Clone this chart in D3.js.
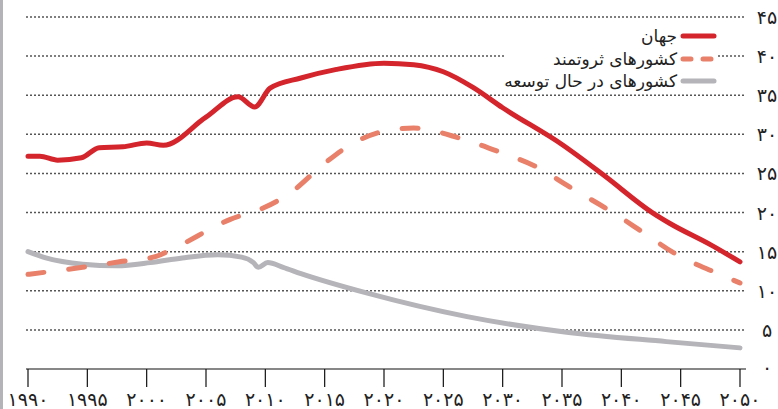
<!DOCTYPE html>
<html>
<head>
<meta charset="utf-8">
<script src="https://cdn.jsdelivr.net/npm/d3@7"></script>
<style>
  body { margin: 0; background: #fff; }
  svg { display: block; font-family: "DejaVu Sans", "Noto Sans", sans-serif; }
</style>
</head>
<body>
<div id="chart"></div>
<script>
// series: [year, value]
const worldData = [
    [1990, 27.2], [1991, 27.2], [1992.5, 26.7], [1994.5, 27.0], [1996, 28.3],
    [1998, 28.4], [2000, 28.9], [2001.4, 28.6], [2005, 32.2], [2007.7, 34.8],
    [2009.1, 33.5], [2010.4, 35.9], [2013, 37.2], [2016, 38.3], [2020, 39.1],
    [2022.5, 38.9], [2025, 38.0], [2027.5, 36.0], [2030, 33.4], [2035, 28.7],
    [2038.5, 24.8], [2042.7, 19.9], [2044.1, 18.6], [2047.5, 15.9], [2050, 13.7]
];
const richData = [
    [1990, 12.1], [1994.6, 13.0], [1997.7, 13.7], [2000.8, 14.4], [2002, 15.2],
    [2007, 19.1], [2010, 20.7], [2012, 22.4], [2015, 26.3], [2017, 28.5],
    [2020, 30.4], [2022.5, 30.8], [2026.4, 29.5], [2029.8, 27.7], [2032.9, 25.8],
    [2035.5, 23.4], [2039.6, 19.7], [2041.8, 17.5], [2044.7, 14.6], [2048, 12.3],
    [2050, 11.0]
];
const developingData = [
    [1990, 15.0], [1991.5, 14.2], [1994.6, 13.4], [1997.5, 13.2], [2000.3, 13.6],
    [2003, 14.2], [2006, 14.6], [2008, 14.3], [2009, 13.6], [2009.4, 13.0],
    [2010.2, 13.6], [2011.5, 13.0], [2013, 12.2], [2018.6, 9.7], [2027, 6.7],
    [2035.4, 4.7], [2043.8, 3.5], [2050, 2.7]
];
const seriesNames = ["جهان", "کشورهای ثروتمند", "کشورهای در حال توسعه"];
const yTicks = [0, 5, 10, 15, 20, 25, 30, 35, 40, 45];
const xTicks = [1990, 1995, 2000, 2005, 2010, 2015, 2020, 2025, 2030, 2035, 2040, 2045, 2050];

const faDigits = n => String(n).replace(/\d/g, d => "۰۱۲۳۴۵۶۷۸۹"[d]);

const width = 778, height = 409;
const svg = d3.select("#chart").append("svg")
    .attr("width", width)
    .attr("height", height);

const x = d3.scaleLinear().domain([1990, 2050]).range([28, 740]);
const y = d3.scaleLinear().domain([0, 45]).range([369, 17]);

// grey strip on the left edge
svg.append("rect")
    .attr("x", 0).attr("y", 0)
    .attr("width", 3).attr("height", height)
    .attr("fill", "#b4b4b8");

// dotted grid
svg.append("g")
    .selectAll("line")
    .data(yTicks.filter(d => d > 0))
    .enter()
    .append("line")
    .attr("x1", 26).attr("x2", 746)
    .attr("y1", d => y(d)).attr("y2", d => y(d))
    .attr("stroke", "#555")
    .attr("stroke-width", 1.5)
    .attr("stroke-dasharray", "2,2");

// y labels on the right
svg.append("g")
    .selectAll("text")
    .data(yTicks)
    .enter()
    .append("text")
    .attr("x", 767)
    .attr("y", d => y(d) + (d === 0 ? 5 : 7))
    .attr("text-anchor", "middle")
    .attr("font-size", "19px")
    .attr("fill", "#222")
    .text(d => faDigits(d));

// x axis
const xAxis = svg.append("g");
xAxis.append("line")
    .attr("x1", 26).attr("x2", 746)
    .attr("y1", 369).attr("y2", 369)
    .attr("stroke", "#111").attr("stroke-width", 1.2);
xAxis.selectAll(".tick")
    .data(xTicks)
    .enter()
    .append("line")
    .attr("x1", d => x(d)).attr("x2", d => x(d))
    .attr("y1", 369).attr("y2", 387)
    .attr("stroke", "#111").attr("stroke-width", 1.2);
xAxis.selectAll("text")
    .data(xTicks)
    .enter()
    .append("text")
    .attr("x", d => x(d))
    .attr("y", 406)
    .attr("text-anchor", "middle")
    .attr("font-size", "19px")
    .attr("fill", "#222")
    .text(d => faDigits(d));

// lines
const line = d3.line()
    .x(d => x(d[0]))
    .y(d => y(d[1]))
    .curve(d3.curveMonotoneX);

const styles = [
    { data: worldData, color: "#d4242c", dash: null },
    { data: richData, color: "#e8806a", dash: "16,25" },
    { data: developingData, color: "#b4b4b9", dash: null }
];

[styles[2], styles[1], styles[0]].forEach(s => {
    svg.append("path")
        .datum(s.data)
        .attr("d", line)
        .attr("fill", "none")
        .attr("stroke", s.color)
        .attr("stroke-width", 5)
        .attr("stroke-linecap", "round")
        .attr("stroke-linejoin", "round")
        .attr("stroke-dasharray", s.dash);
});

// legend
const legend = svg.append("g");
legend.append("rect")
    .attr("x", 505).attr("y", 24)
    .attr("width", 211).attr("height", 66)
    .attr("fill", "#fff");

const rowY = [36, 59, 81];
styles.forEach((s, i) => {
    const g = legend.append("g").attr("transform", `translate(0,${rowY[i]})`);
    g.append("line")
        .attr("x1", 683).attr("x2", 714)
        .attr("y1", 0).attr("y2", 0)
        .attr("stroke", s.color)
        .attr("stroke-width", 5)
        .attr("stroke-linecap", "round")
        .attr("stroke-dasharray", s.dash ? "8,12" : null);
    g.append("text")
        .attr("x", 677)
        .attr("y", 6)
        .attr("text-anchor", "end")
        .attr("font-size", "17px")
        .attr("fill", "#222")
        .text(seriesNames[i]);
});
</script>
</body>
</html>
